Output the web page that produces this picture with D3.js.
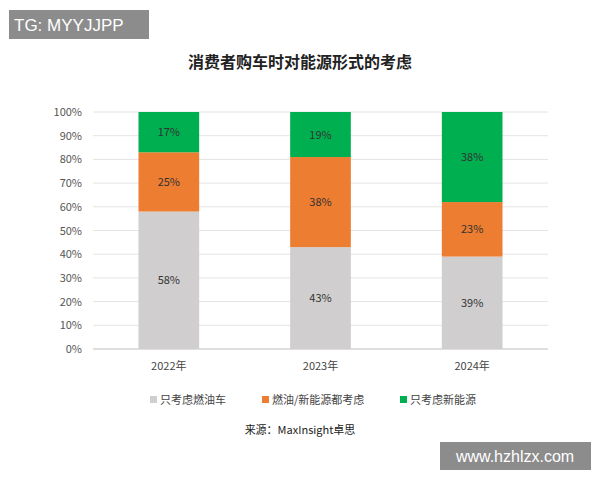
<!DOCTYPE html><html><head><meta charset="utf-8"><script src="https://cdn.jsdelivr.net/npm/d3@7"></script>
<style>body{margin:0;background:#fff}</style></head><body><svg id="c" width="600" height="480"></svg><script>
const years=["2022年","2023年","2024年"];
const oilOnly=[58,43,39];
const both=[25,38,23];
const newOnly=[17,19,38];
const seriesNames=["只考虑燃油车","燃油/新能源都考虑","只考虑新能源"];
const colors=["#d0cece","#ed7d31","#00b050"];
const yTicks=[0,10,20,30,40,50,60,70,80,90,100];
const svg=d3.select("#c");
const font="'Noto Sans CJK SC', sans-serif";
svg.append("text").attr("x",300).attr("y",68).attr("text-anchor","middle").attr("font-family",font).attr("font-weight","bold").attr("font-size",16).attr("fill","#222").text("消费者购车时对能源形式的考虑");
const x=d3.scaleBand().domain(years).range([93,548]).paddingInner(0.6).paddingOuter(0.3);
const y=d3.scaleLinear().domain([0,100]).range([349,112]);
const g=svg.append("g");
g.selectAll("line.g").data(yTicks).join("line").attr("x1",93).attr("x2",548).attr("y1",d=>y(d)).attr("y2",d=>y(d)).attr("stroke",d=>d===0?"#bfbfbf":"#e4e4e4");
g.selectAll("text.t").data(yTicks).join("text").attr("x",82).attr("y",d=>y(d)+4).attr("text-anchor","end").attr("font-family",font).attr("font-size",11).attr("fill","#555").text(d=>d+"%");
const series=[oilOnly,both,newOnly];
years.forEach((yr,i)=>{let base=0;series.forEach((s,k)=>{const v=s[i];
 g.append("rect").attr("x",x(yr)).attr("width",x.bandwidth()).attr("y",y(base+v)).attr("height",y(base)-y(base+v)).attr("fill",colors[k]);
 g.append("text").attr("x",x(yr)+x.bandwidth()/2).attr("y",(y(base)+y(base+v))/2+4).attr("text-anchor","middle").attr("font-family",font).attr("font-size",11).attr("fill","#333").text(v+"%");
 base+=v;});});
g.selectAll("text.x").data(years).join("text").attr("x",d=>x(d)+x.bandwidth()/2).attr("y",370).attr("text-anchor","middle").attr("font-family",font).attr("font-size",11).attr("fill","#444").text(d=>d);
const lx=[150,262,400];
seriesNames.forEach((n,k)=>{svg.append("rect").attr("x",lx[k]).attr("y",396).attr("width",7).attr("height",7).attr("fill",colors[k]);
 svg.append("text").attr("x",lx[k]+10).attr("y",404).attr("font-family",font).attr("font-size",11).attr("fill","#444").text(n);});
svg.append("text").attr("x",300).attr("y",434).attr("text-anchor","middle").attr("font-family",font).attr("font-size",11).attr("fill","#222").text("来源：MaxInsight卓思");
svg.append("rect").attr("x",9).attr("y",10).attr("width",140).attr("height",29).attr("fill","#8c8c8c");
svg.append("text").attr("x",14).attr("y",31).attr("font-family","Liberation Sans, sans-serif").attr("font-size",17).attr("fill","#fff").text("TG: MYYJJPP");
svg.append("rect").attr("x",440).attr("y",442).attr("width",151).attr("height",28).attr("fill","#8c8c8c");
svg.append("text").attr("x",515).attr("y",462).attr("text-anchor","middle").attr("font-family","Liberation Sans, sans-serif").attr("font-size",16).attr("fill","#fff").text("www.hzhlzx.com");
</script></body></html>
